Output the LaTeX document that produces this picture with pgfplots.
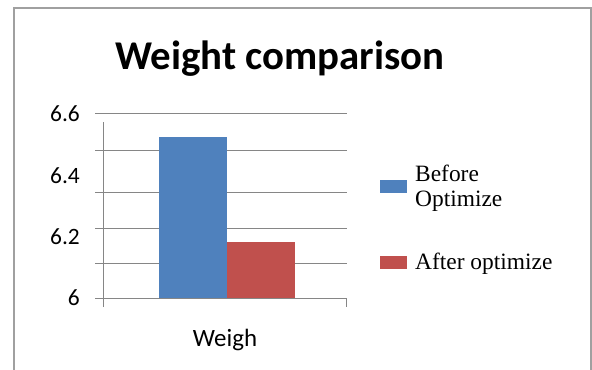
\documentclass[border=0pt]{standalone}
\usepackage{pgfplots}
\pgfplotsset{compat=1.18}
\usepackage{fontspec}
\setmainfont{Carlito}
\newfontfamily\legfont{Liberation Serif}
\definecolor{xblue}{HTML}{4F81BD}
\definecolor{xred}{HTML}{C0504D}
\definecolor{gridc}{RGB}{134,134,134}
\definecolor{framec}{RGB}{160,160,160}
\begin{document}
\begin{tikzpicture}[x=1bp,y=1bp]
\path[use as bounding box] (0,0) rectangle (592,369);
\draw[framec, line width=1.5bp] (14,-5) -- (14,361) -- (591,361) -- (591,-5);
\begin{axis}[
  name=ax,
  at={(103bp,71bp)}, anchor=south west,
  scale only axis, width=244bp, height=184bp,
  xmin=0, xmax=1, ymin=6, ymax=6.6,
  axis line style={draw=none},
  ybar=0pt, bar width=68bp,
  every axis plot post/.append style={legend image code/.code={\fill[##1] (0bp,-6.5bp) rectangle (27bp,6.5bp);}},
  ytick={6,6.2,6.4,6.6}, yticklabels={6,6.2,6.4,6.6},
  ytick style={draw=none}, xtick style={draw=none},
  major tick length=0pt,
  ytick pos=left,
  /pgf/number format/assume math mode=true,
  yticklabel style={font=\fontsize{23.5}{23.5}\selectfont, inner sep=0pt, anchor=east, xshift=-23bp},
  xtick={0.5}, xticklabels={Weigh},
  xticklabel style={font=\fontsize{25}{25}\selectfont, inner sep=0pt, anchor=north, yshift=-31bp},
  extra y ticks={6,6.114,6.228,6.345,6.482,6.6},
  extra y tick labels={},
  extra y tick style={grid=major, tick align=outside, major tick length=8bp, ytick style={draw=gridc, line width=1bp}},
  major grid style={draw=gridc, line width=1bp},
  title={Weight comparison},
  title style={font=\bfseries\fontsize{41}{41}\selectfont, at={(0.725,1)}, anchor=base, yshift=38.7bp, inner sep=0pt},
  legend cell align=left,
  legend style={draw=none, fill=none, at={(1,1)}, anchor=north west, xshift=33bp, yshift=-51bp,
    inner sep=0pt, font=\legfont\fontsize{23.5}{25}\selectfont, row sep=45bp, column sep=8bp,
    cells={align=left}, nodes={inner sep=0pt}},
]
\addplot[fill=xblue, draw=none] coordinates {(0.508,6.526)};
\addlegendentry{Before\\Optimize}
\addplot[fill=xred, draw=none] coordinates {(0.508,6.184)};
\addlegendentry{After optimize}
\end{axis}
\draw[gridc, line width=1bp] ([yshift=-9bp]ax.south west) -- ([yshift=-8bp]ax.north west);
\draw[gridc, line width=1bp] ([xshift=-0.5bp]ax.south east) -- ([xshift=-0.5bp,yshift=-9bp]ax.south east);
\end{tikzpicture}
\end{document}
